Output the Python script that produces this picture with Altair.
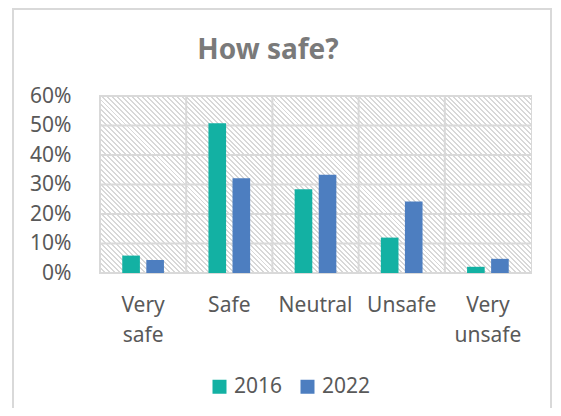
import altair as alt
import pandas as pd

# ---- data ----
categories = ["Very safe", "Safe", "Neutral", "Unsafe", "Very unsafe"]
years = ["2016", "2022"]
share_2016 = [0.059, 0.508, 0.284, 0.120, 0.021]
share_2022 = [0.044, 0.321, 0.333, 0.242, 0.048]
y_ticks = [0.0, 0.1, 0.2, 0.3, 0.4, 0.5, 0.6]
colors = ["#13B1A3", "#4D7EC0"]
chart_title = "How safe?"

rows = []
for c, a, b in zip(categories, share_2016, share_2022):
    rows.append({"category": c, "year": "2016", "share": a})
    rows.append({"category": c, "year": "2022", "share": b})
df = pd.DataFrame(rows)
cat_df = pd.DataFrame({"category": categories})
tick_df = pd.DataFrame({"share": y_ticks})

FONT = "Noto Sans"
GRID = "#d9d9d9"
LABEL = "#595959"
W, H = 431, 177

# diagonal hatch via striped linear gradient
N = 123
line_c = "#d8d8d8"
stops = []
for k in range(N):
    o1 = k / N
    o2 = (k + 0.4) / N
    o3 = (k + 1) / N
    stops += [
        {"offset": round(o1, 5), "color": line_c},
        {"offset": round(o2, 5), "color": line_c},
        {"offset": round(o2, 5), "color": "#ffffff"},
        {"offset": round(o3, 5), "color": "#ffffff"},
    ]
s = (W + H) / (W * W + H * H)
grad = {"gradient": "linear", "x1": 0, "y1": 1, "x2": round(s * W, 4),
        "y2": round(1 - s * H, 4), "stops": stops}

xscale = alt.Scale(domain=categories, paddingInner=0, paddingOuter=0)
yscale = alt.Scale(domain=[0, 0.6], nice=False)

x_axis = alt.Axis(title=None, labelAngle=0, labelExpr="split(datum.label, ' ')",
                  labelFontSize=21, labelColor=LABEL, labelFont=FONT,
                  labelLineHeight=30, labelPadding=21, ticks=False,
                  domain=False, grid=False, bandPosition=0.5, labelFlush=False,
                  labelAlign="center", labelBaseline="top")
y_axis = alt.Axis(values=y_ticks, format=".0%", title=None, ticks=False,
                  domain=False, grid=False, labelPadding=29, labelOverlap=False,
                  labelFontSize=21, labelColor=LABEL, labelFont=FONT)

one = pd.DataFrame({"t": [chart_title]})

border = alt.Chart(one).mark_rect(fill="#ffffff", fillOpacity=0, stroke=GRID, strokeWidth=2).encode(
    x=alt.value(-87), x2=alt.value(451), y=alt.value(-87), y2=alt.value(340)
)

title = alt.Chart(one).mark_text(font=FONT, fontSize=28, fontWeight="bold", color="#7a7a7a",
                                 align="center", baseline="alphabetic").encode(
    text="t:N", x=alt.value(168), y=alt.value(-37)
)

hatch = alt.Chart(one).mark_rect(fill=grad, strokeWidth=0).encode(
    x=alt.value(0), x2=alt.value(W), y=alt.value(0), y2=alt.value(H)
)

hgrid = alt.Chart(tick_df).mark_rule(color=GRID, strokeWidth=2).encode(
    y=alt.Y("share:Q", scale=yscale, axis=y_axis)
)

vgrid = alt.Chart(cat_df).mark_rule(color=GRID, strokeWidth=2).encode(
    x=alt.X("category:N", sort=categories, scale=xscale, bandPosition=0, axis=x_axis)
)

bars = alt.Chart(df).mark_bar().encode(
    x=alt.X("category:N", sort=categories, scale=xscale, axis=x_axis),
    xOffset=alt.XOffset("year:N", scale=alt.Scale(domain=years, paddingInner=0.267, paddingOuter=0.925)),
    y=alt.Y("share:Q", scale=yscale, axis=y_axis),
    color=alt.Color("year:N", scale=alt.Scale(domain=years, range=colors),
                    legend=alt.Legend(title=None, orient="none", legendX=109, legendY=280,
                                      direction="horizontal", symbolType="square",
                                      symbolSize=196, symbolStrokeWidth=0,
                                      labelFontSize=21, labelColor=LABEL, labelFont=FONT,
                                      columnPadding=14, labelOffset=4, padding=0)),
)

chart = alt.layer(border, title, hatch, hgrid, vgrid, bars).properties(
    width=W,
    height=H,
    padding={"left": 92, "top": 88, "right": 22, "bottom": 135},
    autosize=alt.AutoSizeParams(type="none"),
).configure_view(stroke=GRID, strokeWidth=2)

chart.save("out.html", embed_options={"renderer": "svg", "actions": False})
